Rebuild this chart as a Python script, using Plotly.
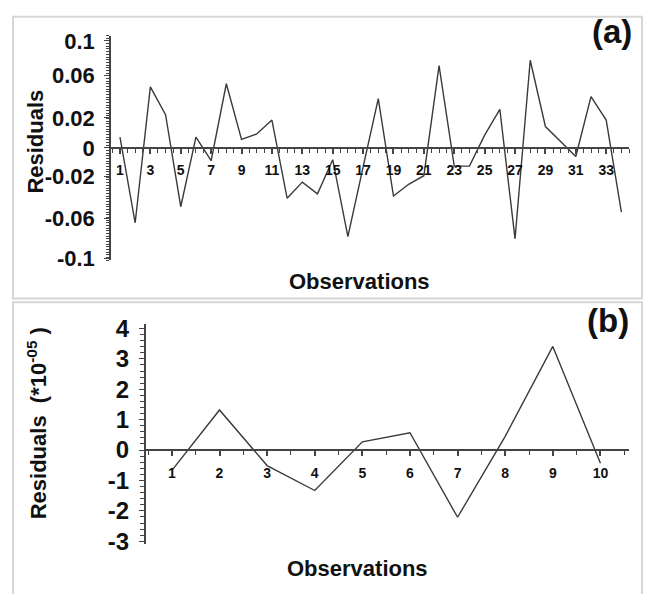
import plotly.graph_objects as go

# ---------------- data ----------------
obs_a = list(range(1, 35))
res_a = [0.010, -0.070, 0.057, 0.031, -0.055, 0.010, -0.012, 0.060, 0.008, 0.013,
         0.026, -0.047, -0.032, -0.043, -0.011, -0.083, -0.018, 0.046, -0.045, -0.034,
         -0.026, 0.077, -0.017, -0.017, 0.012, 0.036, -0.085, 0.082, 0.020, 0.006,
         -0.008, 0.048, 0.026, -0.060]
xtick_a = list(range(1, 34, 2))
ytick_a_vals = [0.1, 0.068, 0.028, 0, -0.027, -0.066, -0.103]
ytick_a_text = ["0.1", "0.06", "0.02", "0", "-0.02", "-0.06", "-0.1"]

obs_b = list(range(1, 11))
res_b = [-0.67, 1.32, -0.51, -1.33, 0.27, 0.57, -2.21, 0.45, 3.41, -0.43]
xtick_b = list(range(1, 11))
ytick_b = [4, 3, 2, 1, 0, -1, -2, -3]

# ---------------- layout geometry ----------------
W, H = 645, 594
def px(x): return x / W
def py(y): return 1 - y / H

yr_a = [-0.105, 0.105]
yd_a = [py(259.5), py(27.5)]
xr_a = [0.41, 34.5]
xd_a = [px(111), px(629)]

yr_b = [-3.1, 4.16]
yd_b = [py(553), py(325)]
xr_b = [0.45, 10.6]
xd_b = [px(145.7), px(629)]

def zero_pos(yr, yd):
    return yd[0] + (0 - yr[0]) / (yr[1] - yr[0]) * (yd[1] - yd[0])

FONT = "Liberation Sans, Arial, sans-serif"
LINE = "#3a3a3a"
AX = "#444444"

fig = go.Figure()
fig.add_trace(go.Scatter(x=obs_a, y=res_a, mode="lines", line=dict(color=LINE, width=1.4),
                         xaxis="x", yaxis="y", showlegend=False, hoverinfo="skip"))
fig.add_trace(go.Scatter(x=obs_b, y=res_b, mode="lines", line=dict(color=LINE, width=1.4),
                         xaxis="x2", yaxis="y2", showlegend=False, hoverinfo="skip"))

xcommon = dict(showgrid=False, zeroline=False, showline=True, linecolor=AX, linewidth=1.5,
               ticks="outside", ticklen=5, tickwidth=1.5, tickcolor=AX,
               tickfont=dict(family=FONT, size=14, color="#111", weight="bold"),
               ticklabelstandoff=5)
ycommon = dict(showgrid=False, zeroline=False, showline=True, linecolor=AX, linewidth=1.5,
               ticks="outside", ticklen=5, tickwidth=1.2, tickcolor=AX,
               ticklabelstandoff=5)

fig.update_layout(
    width=W, height=H, margin=dict(l=0, r=0, t=0, b=0),
    paper_bgcolor="white", plot_bgcolor="white",
    xaxis=dict(xcommon, domain=xd_a, range=xr_a, anchor="free",
               position=zero_pos(yr_a, yd_a), tickmode="array", tickvals=xtick_a,
               minor=dict(tickmode="linear", tick0=0, dtick=0.5, ticks="outside",
                          ticklen=4, tickcolor=AX, tickwidth=1.2)),
    yaxis=dict(ycommon, domain=yd_a, range=yr_a, anchor="x", tickmode="array",
               tickvals=ytick_a_vals, ticktext=ytick_a_text,
               tickfont=dict(family=FONT, size=22, color="#111", weight="bold"),
               minor=dict(tickmode="linear", tick0=0, dtick=0.0025, ticks="outside",
                          ticklen=3, tickcolor=AX, tickwidth=1)),
    xaxis2=dict(xcommon, domain=xd_b, range=xr_b, anchor="free",
                position=zero_pos(yr_b, yd_b), tickmode="array", tickvals=xtick_b,
                minor=dict(tickmode="linear", tick0=0, dtick=0.5, ticks="outside",
                           ticklen=4, tickcolor=AX, tickwidth=1.2)),
    yaxis2=dict(ycommon, domain=yd_b, range=yr_b, anchor="x2", tickmode="array",
                tickvals=ytick_b, ticktext=[str(v) for v in ytick_b],
                tickfont=dict(family=FONT, size=24, color="#111", weight="bold"),
                minor=dict(tickmode="linear", tick0=0, dtick=0.2, ticks="outside",
                           ticklen=4, tickcolor=AX, tickwidth=1)),
)

# panel borders
fig.add_shape(type="rect", xref="paper", yref="paper", x0=px(13), x1=px(642),
              y0=py(299), y1=py(8), line=dict(color="#d6d6d6", width=2))
fig.add_shape(type="rect", xref="paper", yref="paper", x0=px(13), x1=px(642),
              y0=py(610), y1=py(303), line=dict(color="#d6d6d6", width=2))

tfont = dict(family=FONT, size=22, color="#111", weight="bold")
ann = [
    dict(x=px(36), y=py(137), text="Residuals", textangle=-90, font=tfont),
    dict(x=px(359), y=py(281), text="Observations", font=tfont),
    dict(x=px(612), y=py(23), text="(a)", font=dict(family=FONT, size=33, color="#111", weight="bold")),
    dict(x=px(37), y=py(428), text="Residuals  (*10<sup>-05</sup> )", textangle=-90, font=tfont),
    dict(x=px(357), y=py(578), text="Observations", font=tfont),
    dict(x=px(608), y=py(322), text="(b)", font=dict(family=FONT, size=33, color="#111", weight="bold")),
]
for a in ann:
    fig.add_annotation(xref="paper", yref="paper", showarrow=False,
                       xanchor="center", yanchor="middle", **a)

fig.write_html("out.html", config={"displayModeBar": False})

# remove default page margins so the figure sits at the window origin
with open("out.html", "r", encoding="utf-8") as f:
    html = f.read()
html = html.replace("<head>", "<head><style>html,body{margin:0;padding:0;overflow:hidden;}</style>", 1)
with open("out.html", "w", encoding="utf-8") as f:
    f.write(html)
